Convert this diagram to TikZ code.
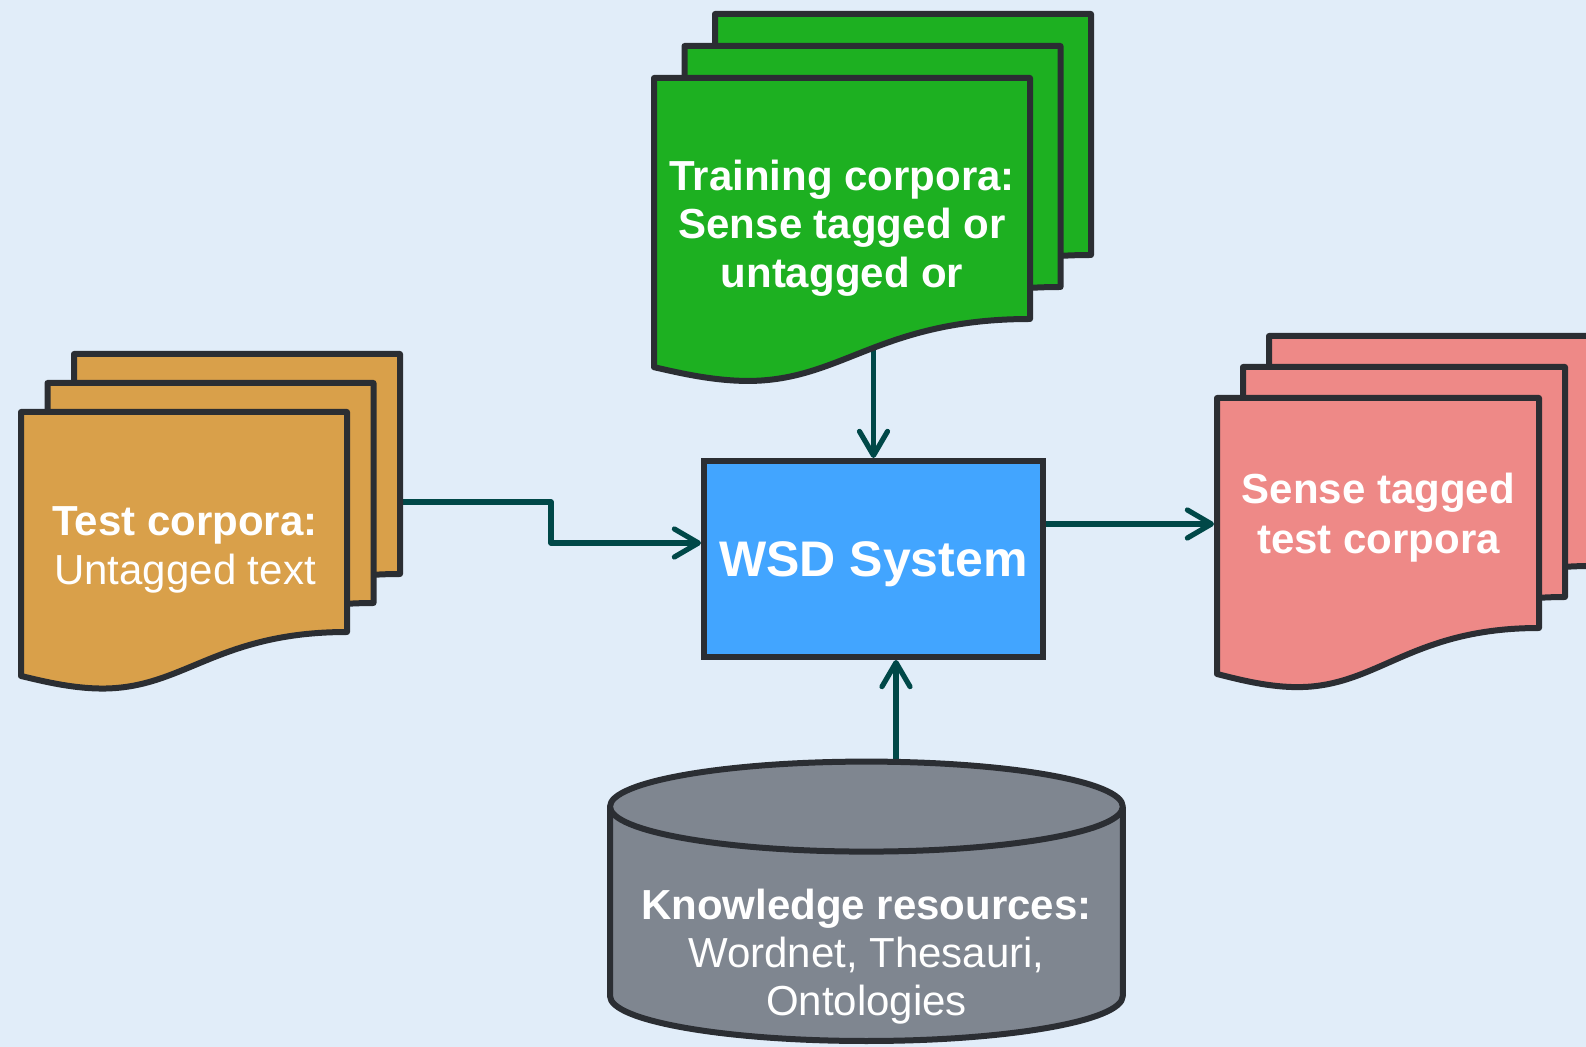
\documentclass[tikz,border=0pt]{standalone}
\usepackage{fontspec}
\setmainfont{Liberation Sans}
\usetikzlibrary{arrows.meta}

\definecolor{pagebg}{HTML}{E1EDF9}
\definecolor{outline}{HTML}{2B2E33}
\definecolor{linkteal}{HTML}{004848}
\definecolor{docorange}{HTML}{D9A04A}
\definecolor{docgreen}{HTML}{1DB021}
\definecolor{docpink}{HTML}{EE8987}
\definecolor{wsdblue}{HTML}{42A5FF}
\definecolor{kbgrey}{HTML}{7F8690}

\pgfdeclarelayer{paper}
\pgfdeclarelayer{links}
\pgfsetlayers{paper,links,main}

\tikzset{
  sheet/.style={draw=outline, line width=3pt, line join=round},
  doctext/.style={text=white, align=center},
  conn/.style={draw=linkteal, line width=2.6pt, line join=round,
    -{Straight Barb[length=12pt,width=14pt,round]}},
}

% one document sheet: left, top, width, height of right edge, fill
\newcommand\docsheet[5]{%
  \draw[sheet, fill=#5] ({#1},{#2}) -- ({#1+#3},{#2}) -- ({#1+#3},{#2+#4})
    .. controls ({#1+0.6*#3},{#2+#4}) and ({#1+0.5*#3},{#2+1.257*#4}) .. ({#1+0.25*#3},{#2+1.257*#4})
    .. controls ({#1+0.15*#3},{#2+1.257*#4}) and ({#1+0.05*#3},{#2+1.217*#4}) .. ({#1},{#2+1.2*#4}) -- cycle;}
% three stacked sheets: front left, front top, width, height, step x, step y, fill
\newcommand\docstack[7]{%
  \docsheet{#1+2*(#5)}{#2+2*(#6)}{#3}{#4}{#7}
  \docsheet{#1+#5}{#2+#6}{#3}{#4}{#7}
  \docsheet{#1}{#2}{#3}{#4}{#7}}

\begin{document}
\begin{tikzpicture}[x=0.5pt, y=-0.5pt]
  \useasboundingbox (0,0) rectangle (1586,1047);
  \clip (0,0) rectangle (1586,1047);
  \begin{pgfonlayer}{paper}
    \fill[pagebg] (0,0) rectangle (1586,1047);
  \end{pgfonlayer}

  % central system box
  \node[draw=outline, line width=3pt, fill=wsdblue, minimum width=169.5pt,
        minimum height=98pt, inner sep=0pt, text depth=0pt, text=white,
        font=\fontsize{25}{30}\selectfont\bfseries] (wsd) at (873.5,559) {WSD System};

  % document stacks
  \docstack{21}{412}{326}{220}{26.5}{-29}{docorange}
  \docstack{654}{78}{376}{241}{30.5}{-32}{docgreen}
  \docstack{1217}{398}{322}{230}{26}{-31}{docpink}

  % knowledge base cylinder
  \fill[kbgrey] (610,806.6) -- (610,996)
    .. controls (610,1020.85) and (724.8,1041) .. (866.4,1041)
    .. controls (1008,1041) and (1122.8,1020.85) .. (1122.8,996) -- (1122.8,806.6) -- cycle;
  \draw[sheet] (610,806.6) -- (610,996)
    .. controls (610,1020.85) and (724.8,1041) .. (866.4,1041)
    .. controls (1008,1041) and (1122.8,1020.85) .. (1122.8,996) -- (1122.8,806.6);
  \draw[sheet, fill=kbgrey] (866.4,806.6) ellipse [x radius=128.2pt, y radius=22.5pt];

  % labels
  \node[doctext, font=\fontsize{21}{24.8}\selectfont] (test) at (185,550)
    {\textbf{Test corpora:}\\Untagged text};
  \node[doctext, font=\fontsize{21}{24.3}\selectfont\bfseries] (train) at (842,228)
    {Training corpora:\\Sense tagged or\\untagged or};
  \node[doctext, font=\fontsize{21}{25}\selectfont\bfseries] (sensed) at (1378.5,518)
    {Sense tagged\\test corpora};
  \node[doctext, font=\fontsize{21}{24}\selectfont] (kb) at (866.4,957)
    {\textbf{Knowledge resources:}\\Wordnet, Thesauri,\\Ontologies};

  % connector end points
  \coordinate (trainOut) at (873.5,330);
  \coordinate (testOut) at (390,502);
  \coordinate (testBend) at (551,502);
  \coordinate (senseIn) at (1214,524);
  \coordinate (kbOut) at (896,780);

  \begin{pgfonlayer}{links}
    \draw[conn] (trainOut) -- (wsd.north);
    \draw[conn] (testOut) -- (testBend) |- ([yshift=8pt]wsd.west);
    \draw[conn] (wsd.east |- senseIn) -- (senseIn);
    \draw[conn] (kbOut) -- (kbOut |- wsd.south);
  \end{pgfonlayer}
\end{tikzpicture}
\end{document}
